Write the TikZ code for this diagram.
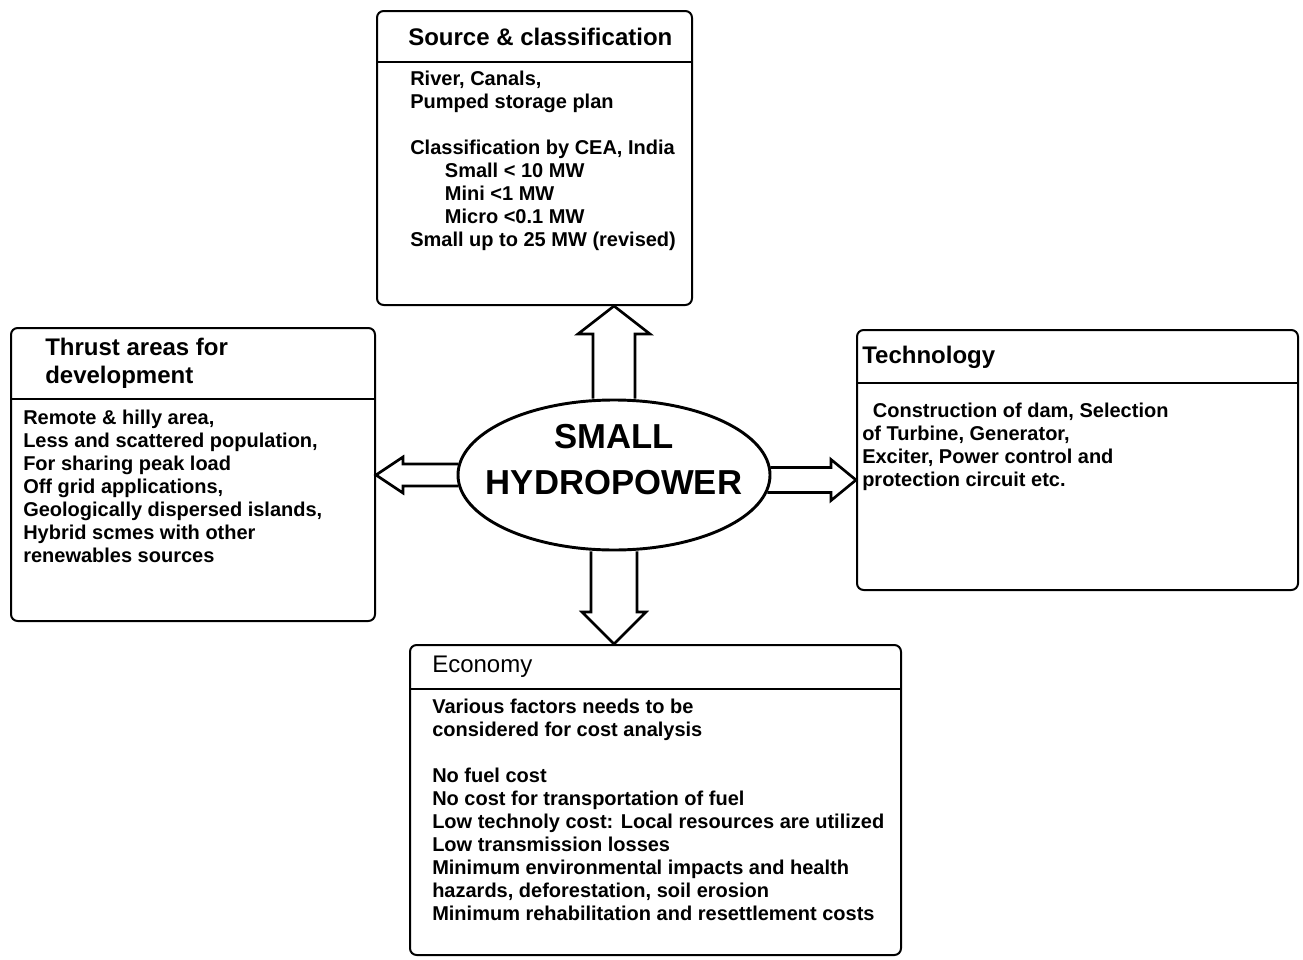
\documentclass[tikz,border=0pt]{standalone}
\usepackage{fontspec}
\setmainfont{Liberation Sans}
\usetikzlibrary{shapes.geometric,fit,calc}

\tikzset{
  panel/.style={draw, line width=1.5pt, rounded corners=5pt, inner sep=0pt},
  panelrule/.style={line width=1.2pt},
  headtxt/.style={anchor=north west, inner sep=0pt, align=left, font=\fontsize{18}{21}\selectfont\bfseries},
  bodytxt/.style={anchor=north west, inner sep=0pt, align=left, font=\fontsize{15}{17.25}\selectfont\bfseries},
  hub/.style={ellipse, draw, line width=2.2pt, minimum width=234pt, minimum height=112.5pt, inner sep=0pt},
  hubtxt/.style={align=center, inner sep=0pt, font=\fontsize{26}{34.5}\selectfont\bfseries},
  blockarrow/.style={draw, line width=2pt, line join=miter}
}

\begin{document}
\begin{tikzpicture}[x=0.75pt,y=0.75pt,yscale=-1,xscale=1]

\useasboundingbox (0,0) rectangle (1303,960);

%Shape: Rectangle [source]
\node (src) [panel, fit={(377,11) (692,305)}] {};
\draw [panelrule] (src.west |- 0,62) -- (src.east |- 0,62) ;
%Shape: Rectangle [thrust]
\node (thrust) [panel, fit={(11,328) (375,621)}] {};
\draw [panelrule] (thrust.west |- 0,399) -- (thrust.east |- 0,399) ;
%Shape: Rectangle [technology]
\node (tech) [panel, fit={(857,330) (1298,590)}] {};
\draw [panelrule] (tech.west |- 0,383) -- (tech.east |- 0,383) ;
%Shape: Rectangle [economy]
\node (econ) [panel, fit={(410,645) (901,955)}] {};
\draw [panelrule] (econ.west |- 0,689) -- (econ.east |- 0,689) ;

%Shape: Ellipse
\node (hydro) [hub] at (614,475) {};
% Text Node
\node (hydrolbl) [hubtxt] at (614,460) {SMALL\\HYDROPOWER};

%Shape: Up Arrow
\coordinate (upTip) at (hydro.north |- src.south);
\draw [blockarrow] ($(hydro.north)+(-21,0)$) -- ($(upTip)+(-21,28)$) -- ++(-15,0) -- (upTip) -- ($(upTip)+(36,28)$) -- ++(-15,0) -- ($(hydro.north)+(21,0)$) ;
%Shape: Down Arrow
\coordinate (dnTip) at (hydro.south |- econ.north);
\draw [blockarrow] ($(hydro.south)+(-23,0)$) -- ($(dnTip)+(-23,-32)$) -- ++(-9,0) -- (dnTip) -- ($(dnTip)+(32,-32)$) -- ++(-9,0) -- ($(hydro.south)+(23,0)$) ;
%Shape: Left Arrow
\coordinate (lfTip) at (thrust.east |- hydro.west);
\draw [blockarrow] ($(hydro.west)+(1.5,-11)$) -- ($(lfTip)+(27,-11)$) -- ++(0,-7) -- (lfTip) -- ($(lfTip)+(27,18)$) -- ++(0,-7) -- ($(hydro.west)+(1.5,11)$) ;
%Shape: Right Arrow
\coordinate (rtTip) at ($(tech.west |- hydro.east)+(0,5)$);
\draw [blockarrow] ($(hydro.east)+(-1,-7.5)$) -- ($(rtTip)+(-25,-12.5)$) -- ++(0,-8) -- (rtTip) -- ($(rtTip)+(-25,20.5)$) -- ++(0,-8) -- ($(hydro.east)+(-4,17.5)$) ;

% Text Node
\node (srchead) [headtxt] at (408,28) {Source \& classification};
% Text Node
\node (srcbody) [bodytxt] at (410,71) {River, Canals,\\Pumped storage plan\\[17.25pt]Classification by CEA, India\\\hspace*{26pt}Small < 10 MW\\\hspace*{26pt}Mini <1 MW\\\hspace*{26pt}Micro <0.1 MW\\Small up to 25 MW (revised)};
% Text Node
\node (thrusthead) [headtxt] at (45,338) {Thrust areas for\\development};
% Text Node
\node (thrustbody) [bodytxt] at (23,410) {Remote \& hilly area,\\Less and scattered population,\\For sharing peak load\\Off grid applications,\\Geologically dispersed islands,\\Hybrid scmes with other\\renewables sources};
% Text Node
\node (techhead) [headtxt] at (862,346) {Technology};
% Text Node
\node (techbody) [bodytxt] at (862,403) {\hspace*{8pt}Construction of dam, Selection\\of Turbine, Generator,\\Exciter, Power control and\\protection circuit etc.};
% Text Node
\node (econhead) [headtxt, font=\fontsize{18}{21}\selectfont] at (432,656) {Economy};
% Text Node
\node (econbody) [bodytxt] at (432,699) {Various factors needs to be\\considered for cost analysis\\[17.25pt]No fuel cost\\No cost for transportation of fuel\\Low technoly cost: Local resources are utilized\\Low transmission losses\\Minimum environmental impacts and health\\hazards, deforestation, soil erosion\\Minimum rehabilitation and resettlement costs};
\end{tikzpicture}
\end{document}
